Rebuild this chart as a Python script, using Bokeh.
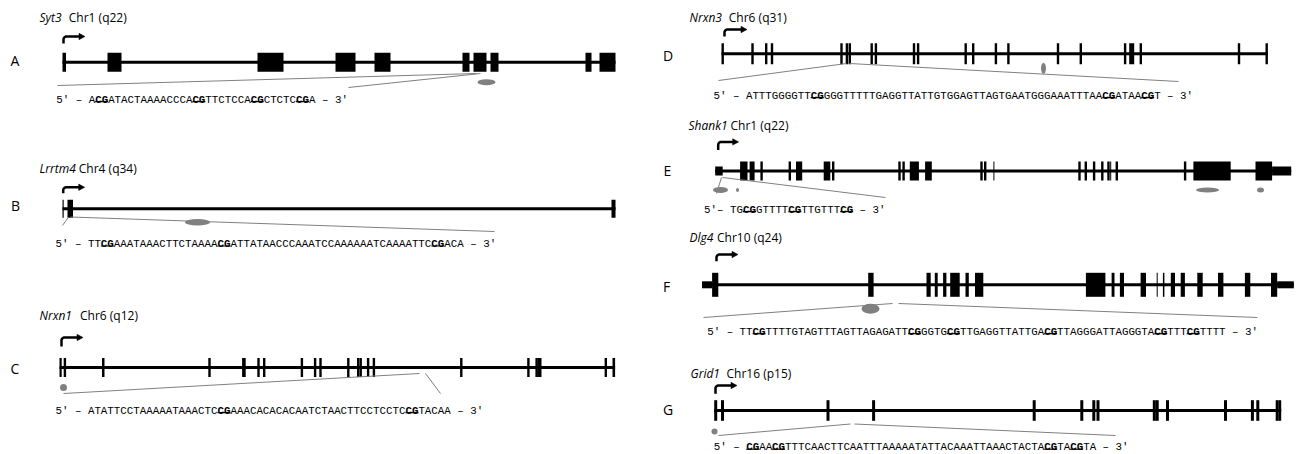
import math
from bokeh.plotting import figure
from bokeh.models import Range1d
from bokeh.core.properties import value
from bokeh.embed import file_html
from bokeh.resources import INLINE

# ---------------- data ----------------
panel_labels = ["A", "B", "C", "D", "E", "F", "G"]
gene_names = ["Syt3", "Lrrtm4", "Nrxn1", "Nrxn3", "Shank1", "Dlg4", "Grid1"]
chrom_labels = ["Chr1 (q22)", "Chr4 (q34)", "Chr6 (q12)", "Chr6 (q31)",
                "Chr1 (q22)", "Chr10 (q24)", "Chr16 (p15)"]
sequences = [
    "ACGATACTAAAACCCACGTTCTCCACGCTCTCCGA",
    "TTCGAAATAAACTTCTAAAACGATTATAACCCAAATCCAAAAAATCAAAATTCCGACA",
    "ATATTCCTAAAAATAAACTCCGAAACACACACAATCTAACTTCCTCCTCCGTACAA",
    "ATTTGGGGTTCGGGGTTTTTGAGGTTATTGTGGAGTTAGTGAATGGGAAATTTAACGATAACGT",
    "TGCGGTTTTCGTTGTTTCG",
    "TTCGTTTTGTAGTTTAGTTAGAGATTCGGGTGCGTTGAGGTTATTGACGTTAGGGATTAGGGTACGTTTCGTTTT",
    "CGAACGTTTCAACTTCAATTTAAAAATATTACAAATTAAACTACTACGTACGTA",
]
seq_prefix = ["5′ – ", "5′ – ", "5′ – ", "5′ – ", "5′– ", "5′ – ", "5′ – "]
seq_suffix = " – 3′"

# gene lengths (relative units)
gene_length = [553, 553, 555.6, 546.4, 576, 591.8, 567]

# exon starts / ends (relative to transcription start)
exon_starts = [
    [0, 45, 195, 273, 312, 400, 411, 428, 523, 537],
    [0, 5, 549],
    [0, 4.2, 42.5, 148.8, 182.6, 197.8, 203.5, 241.2, 254.4, 259.8, 287.6, 297.5,
     300, 307.4, 313.2, 400.6, 467.7, 475.9, 478, 545.1, 553],
    [0, 29.8, 43.5, 49.3, 118.8, 124.2, 127.1, 149, 153.2, 191.3, 195.4, 243, 250.5,
     273.2, 285.7, 335.3, 358.1, 402.4, 407.7, 418.1, 516.3, 544],
    [24.9, 34.4, 45.2, 73.4, 80.8, 108.5, 116.8, 183.1, 187.2, 194.6, 209.9, 265.1,
     268.8, 278.2, 363.1, 369.4, 377.7, 385.9, 392.1, 395, 400.4, 468.7, 478.2, 540.3],
    [10.1, 166.2, 224.5, 232.8, 241.1, 248.2, 263.5, 273, 383.9, 409.6, 417.9, 438.6,
     454.7, 460.9, 468.8, 478.7, 495.3, 516, 542.9, 569],
    [0, 6.8, 112.3, 157.9, 318.5, 366.1, 378.1, 382.3, 438.6, 441.5, 451.8, 509.8,
     536.7, 542.1, 561.5, 564.4],
]
exon_ends = [
    [3.5, 59, 221, 293, 328, 407, 424, 436, 529, 553],
    [1.2, 10.5, 553],
    [2.2, 6.6, 45, 151.2, 186.2, 200.2, 205.9, 243.6, 256.8, 262.2, 290, 299.9,
     302.4, 309.8, 315.6, 403, 470.1, 478.3, 482, 547.5, 555.6],
    [2.4, 32.2, 45.9, 51.7, 121.2, 126.6, 129.5, 151.4, 155.6, 193.7, 197.8, 245.4,
     252.9, 275.6, 288.1, 337.7, 360.5, 404.8, 412.7, 420.5, 518.7, 546.4],
    [32.3, 39.4, 47.6, 75.8, 87, 115.1, 119.2, 185.5, 189.6, 203.7, 216.6, 267.5,
     271.2, 279.2, 365.5, 371.8, 380.1, 388.3, 394.5, 396, 402.8, 471.1, 515.5, 556.9],
    [16.3, 171.6, 228.7, 235.7, 244.4, 257.7, 266.8, 281.3, 403.4, 412.5, 422, 444,
     455.7, 462.4, 473, 482.9, 500.7, 521.4, 548.3, 575.2],
    [3, 9.8, 115.3, 160.9, 321.5, 369.1, 381.1, 385.3, 441.6, 444.5, 454.8, 512.8,
     539.7, 545.1, 564.5, 567],
]
# untranslated (thinner) blocks
utr_starts = [[], [], [], [], [0, 556.9], [0, 575.2], []]
utr_ends = [[], [], [], [], [7.5, 576], [10.1, 591.8], []]

# methylation / CpG region markers (relative position, width, height)
cpg_pos = [[424], [135], [4], [322], [5.3, 22.3, 492.3, 545.3], [168.5], [0.3, 80.3]]
cpg_w = [[18], [25], [7], [5], [15, 3, 23, 7], [18], [6, 6]]
cpg_h = [[6], [6.5], [7], [11], [6, 4, 5, 5], [10], [6]]
# analysed fragment location on the gene (relative)
region_lo = [414, 6, 360, 125, 6.3, 190.5, 136.3]
region_hi = [418, 8, 366, 128, 7.3, 196.5, 140.3]

# ---------------- layout ----------------
origin_x = [62, 62, 59, 721, 714.7, 701.5, 713.7]
gene_y = [61.7, 208.3, 367, 53.3, 170.4, 284.3, 410]
exon_half = [9.5, 9, 9.5, 10.5, 9.5, 12, 10.3]
utr_half = [0, 0, 0, 0, 4.5, 3.5, 0]
label_x = [14.5, 15, 14.5, 667.5, 667, 666, 667.5]
label_y = [60, 205, 368, 55, 170, 286, 409]
title_x = [39, 39, 39, 689, 688, 689, 690]
title_y = [17, 168, 315, 17, 125, 237, 373]
name_w = [29.3, 39.3, 40.5, 39.3, 42, 27.5, 36]
seq_x = [55.8, 55, 55, 713, 703.6, 706.7, 713.3]
seq_base = [99, 243.3, 410, 95, 209, 331, 446.5]
arrow_off = [1, 0.7, 2, 3, 3, 14.5, 1.3]
arrow_yb = [-18.7, -15.6, -21, -17.3, -20.8, -23.6, -16.7]
arrow_yt = [-25.7, -21.5, -30, -24.3, -29, -30.3, -25]
arrow_len = [21, 21, 21, 22, 20, 21, 21]
region_dy = [11.3, 8.2, 6, 9.7, 6.6, 18.7, 13.5]
cpg_dy = [20, 13.5, 20, 14.5, 19, 24, 21]
call_left = [(57, 85), (62, 225), (63, 393), (718, 80), (716, 193), (703, 317), (718, 435)]
call_right = [(348, 87), (494, 231), (440, 393), (1178, 81), (885, 197), (1257, 317), (1115, 435)]

SEQ_FS = 10.8
CW = 0.6 * SEQ_FS
GRAY = "#808080"

W, H = 1296, 454
p = figure(width=W, height=H, x_range=Range1d(0, W), y_range=Range1d(H, 0),
           output_backend="svg", toolbar_location=None, x_axis_type=None,
           y_axis_type=None, min_border=0, background_fill_color="white")
p.outline_line_color = None
p.grid.visible = False

# gene backbone lines
gx0 = origin_x
gx1 = [o + L for o, L in zip(origin_x, gene_length)]
p.segment(x0=gx0, y0=gene_y, x1=gx1, y1=gene_y, line_color="black", line_width=3)

# exons
L, R, T, B = [], [], [], []
for i in range(7):
    for s, e in zip(exon_starts[i], exon_ends[i]):
        L.append(origin_x[i] + s)
        R.append(origin_x[i] + e)
        T.append(gene_y[i] - exon_half[i])
        B.append(gene_y[i] + exon_half[i])
p.quad(left=L, right=R, top=T, bottom=B, fill_color="black", line_color=None)

# UTRs
L, R, T, B = [], [], [], []
for i in range(7):
    for s, e in zip(utr_starts[i], utr_ends[i]):
        h = utr_half[i]
        L.append(origin_x[i] + s)
        R.append(origin_x[i] + e)
        T.append(gene_y[i] - h)
        B.append(gene_y[i] + h)
p.quad(left=L, right=R, top=T, bottom=B, fill_color="black", line_color=None)

# transcription start arrows
axs, ays, hx, hy = [], [], [], []
for i in range(7):
    ax = origin_x[i] + arrow_off[i]
    yb = gene_y[i] + arrow_yb[i]
    yt = gene_y[i] + arrow_yt[i]
    r = 3.0
    xs = [ax]
    ys = [yb]
    for k in range(0, 7):
        t = math.radians(k * 15)
        xs.append(ax + r - r * math.cos(t))
        ys.append(yt + r - r * math.sin(t))
    tip = ax + arrow_len[i]
    xs.append(tip - 4)
    ys.append(yt)
    axs.append(xs)
    ays.append(ys)
    hx.append([tip - 5.5, tip + 0.5, tip - 5.5])
    hy.append([yt - 3.2, yt, yt + 3.2])
p.multi_line(xs=axs, ys=ays, line_color="black", line_width=2.5)
p.patches(xs=hx, ys=hy, fill_color="black", line_color="black", line_width=0.5)

# callout lines (grey)
sx0, sy0, sx1, sy1 = [], [], [], []
for i in range(7):
    ty = gene_y[i] + region_dy[i]
    sx0 += [call_left[i][0], origin_x[i] + region_hi[i]]
    sy0 += [call_left[i][1], ty]
    sx1 += [origin_x[i] + region_lo[i], call_right[i][0]]
    sy1 += [ty, call_right[i][1]]
p.segment(x0=sx0, y0=sy0, x1=sx1, y1=sy1, line_color=GRAY, line_width=1)

# CpG markers
ex, ey, ew, eh = [], [], [], []
for i in range(7):
    for pos, w, h in zip(cpg_pos[i], cpg_w[i], cpg_h[i]):
        ex.append(origin_x[i] + pos)
        ey.append(gene_y[i] + cpg_dy[i])
        ew.append(w)
        eh.append(h)
p.ellipse(x=ex, y=ey, width=ew, height=eh, fill_color=GRAY, line_color=None)

# panel letters
p.text(x=label_x, y=label_y, text=panel_labels, text_font=value("Open Sans"),
       text_font_size="14px", text_align="center", text_baseline="middle",
       text_color="black")

# titles
p.text(x=title_x, y=title_y, text=gene_names, text_font=value("Open Sans"),
       text_font_size="12px", text_font_style="italic", text_align="left",
       text_baseline="middle", text_color="black")
p.text(x=[t + w for t, w in zip(title_x, name_w)], y=title_y, text=chrom_labels,
       text_font=value("Open Sans"), text_font_size="12px", text_align="left",
       text_baseline="middle", text_color="black")

# sequences (CG bold + underlined)
nx, ny, nt, bx, by, bt = [], [], [], [], [], []
ux0, ux1, uy = [], [], []
for i in range(7):
    full = seq_prefix[i] + sequences[i] + seq_suffix
    off = len(seq_prefix[i])
    bold = [False] * len(full)
    j = 0
    while True:
        k = sequences[i].find("CG", j)
        if k < 0:
            break
        bold[off + k] = bold[off + k + 1] = True
        j = k + 2
    idx = 0
    n = len(full)
    while idx < n:
        if full[idx] == " ":
            idx += 1
            continue
        b = bold[idx]
        jdx = idx
        while jdx < n and full[jdx] != " " and bold[jdx] == b:
            jdx += 1
        xpos = seq_x[i] + idx * CW
        if b:
            bx.append(xpos); by.append(seq_base[i]); bt.append(full[idx:jdx])
            ux0.append(xpos); ux1.append(xpos + (jdx - idx) * CW)
            uy.append(seq_base[i] + 2.2)
        else:
            nx.append(xpos); ny.append(seq_base[i]); nt.append(full[idx:jdx])
        idx = jdx
p.text(x=nx, y=ny, text=nt, text_font=value("Liberation Mono"),
       text_font_size=f"{SEQ_FS}px", text_align="left", text_baseline="alphabetic",
       text_color="black")
p.text(x=bx, y=by, text=bt, text_font=value("Liberation Mono"),
       text_font_size=f"{SEQ_FS}px", text_font_style="bold", text_align="left",
       text_baseline="alphabetic", text_color="black")
p.segment(x0=ux0, y0=uy, x1=ux1, y1=uy, line_color="black", line_width=1.2)

open("out.html", "w").write(file_html(p, INLINE))
